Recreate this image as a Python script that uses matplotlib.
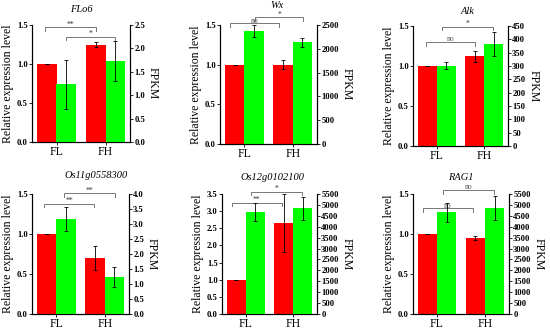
import matplotlib
matplotlib.use("Agg")
import matplotlib.pyplot as plt
import numpy as np

plt.rcParams["font.family"] = ["Liberation Serif", "DejaVu Serif"]

genes = ["FLo6", "Wx", "Alk", "Os11g0558300", "Os12g0102100", "RAG1"]
groups = ["FL", "FH"]

# relative expression (left axis, red)
rel_fl = [1.0, 1.0, 1.0, 1.0, 1.0, 1.0]
rel_fh = [1.25, 1.0, 1.12, 0.70, 2.65, 0.95]
rel_fl_err = [0, 0, 0, 0, 0, 0]
rel_fh_err = [0.03, 0.055, 0.07, 0.145, 0.84, 0.03]

# FPKM (right axis, green)
fpkm_fl = [1.23, 2380, 301, 3.16, 4660, 4660]
fpkm_fh = [1.73, 2136, 382, 1.23, 4845, 4845]
fpkm_fl_err = [0.52, 122, 14, 0.40, 420, 430]
fpkm_fh_err = [0.42, 88, 44, 0.33, 530, 550]

# axis ranges
left_max = [1.5, 1.5, 1.5, 1.5, 3.5, 1.5]
right_max = [2.5, 2500, 450, 4.0, 5500, 5500]
right_step = [0.5, 500, 50, 0.5, 500, 500]

# significance brackets: (x1, x2, y on left axis, label)
brackets = [
    [(0.77, 1.80, 1.47, "**"), (1.20, 2.20, 1.35, "*")],
    [(0.70, 1.72, 1.52, "no"), (1.22, 2.22, 1.60, "*")],
    [(0.78, 1.80, 1.30, "no"), (1.12, 2.18, 1.49, "*")],
    [(0.75, 1.78, 1.38, "**"), (1.17, 2.21, 1.51, "**")],
    [(0.70, 1.76, 3.25, "**"), (1.11, 2.19, 3.57, "*")],
    [(0.71, 1.75, 1.32, "no"), (1.13, 2.19, 1.55, "no")],
]

W, H = 550, 330
# axes boxes in pixels: left, right, top, bottom
boxes = [
    (32, 130, 25, 142), (220, 317, 25, 144), (413, 508, 26, 146),
    (32, 129, 194, 314), (222, 317, 194, 314), (413, 509, 194, 314),
]
# title centres in pixels
title_pos = [(81, 10), (277, 5), (467, 12), (96, 175), (272, 178), (461, 178)]

fig = plt.figure(figsize=(W / 100, H / 100), dpi=100)

x = np.arange(1, 3)
bw = 0.4
ekw = dict(ecolor="black", elinewidth=0.6, capsize=1.2, capthick=0.6)

for i, gene in enumerate(genes):
    l, r, t, b = boxes[i]
    ax = fig.add_axes([l / W, 1 - b / H, (r - l) / W, (b - t) / H])
    ax2 = ax.twinx()

    ax.bar(x - bw / 2, [rel_fl[i], rel_fh[i]], bw, color="#ff0000",
           yerr=[rel_fl_err[i], rel_fh_err[i]], error_kw=ekw)
    ax2.bar(x + bw / 2, [fpkm_fl[i], fpkm_fh[i]], bw, color="#00ff00",
            yerr=[fpkm_fl_err[i], fpkm_fh_err[i]], error_kw=ekw)

    ax.set_xlim(0.5, 2.5)
    ax.set_ylim(0, left_max[i])
    ax2.set_ylim(0, right_max[i])
    ax.set_yticks(np.arange(0, left_max[i] + 0.01, 0.5))
    ax.set_yticklabels([f"{v:.1f}" for v in ax.get_yticks()])
    rt = np.arange(0, right_max[i] + right_step[i] * 0.01, right_step[i])
    ax2.set_yticks(rt)
    if right_step[i] < 1:
        ax2.set_yticklabels([f"{v:.1f}" for v in rt])
    else:
        ax2.set_yticklabels([f"{int(v)}" for v in rt])

    ax.set_xticks(x)
    ax.set_xticklabels(groups, fontsize=8.5)

    for a in (ax, ax2):
        a.spines["top"].set_visible(False)
        a.tick_params(axis="y", labelsize=6.2, length=2, width=0.6, pad=1)
        for s in a.spines.values():
            s.set_linewidth(0.8)
        for lab in a.get_yticklabels():
            lab.set_fontweight("bold")
    ax.tick_params(axis="x", length=2, width=0.6, pad=1)

    ax.set_ylabel("Relative expression level", fontsize=8.5, labelpad=2)
    ax2.set_ylabel("FPKM", fontsize=8.5, rotation=270, labelpad=10)

    # significance brackets
    leg = left_max[i] * 0.03
    for x1, x2, y, txt in brackets[i]:
        ax.plot([x1, x1, x2, x2], [y - leg, y, y, y - leg], color="#777777",
                lw=0.7, clip_on=False)
        ax.text((x1 + x2) / 2, y - leg * 0.4, txt, ha="center", va="bottom",
                fontsize=5.5, color="#333333" if txt != "no" else "#555555")

    tx, ty = title_pos[i]
    fig.text(tx / W, 1 - ty / H, gene, ha="center", va="center",
             fontsize=7.5, style="italic")

fig.savefig("out.png", dpi=100)
